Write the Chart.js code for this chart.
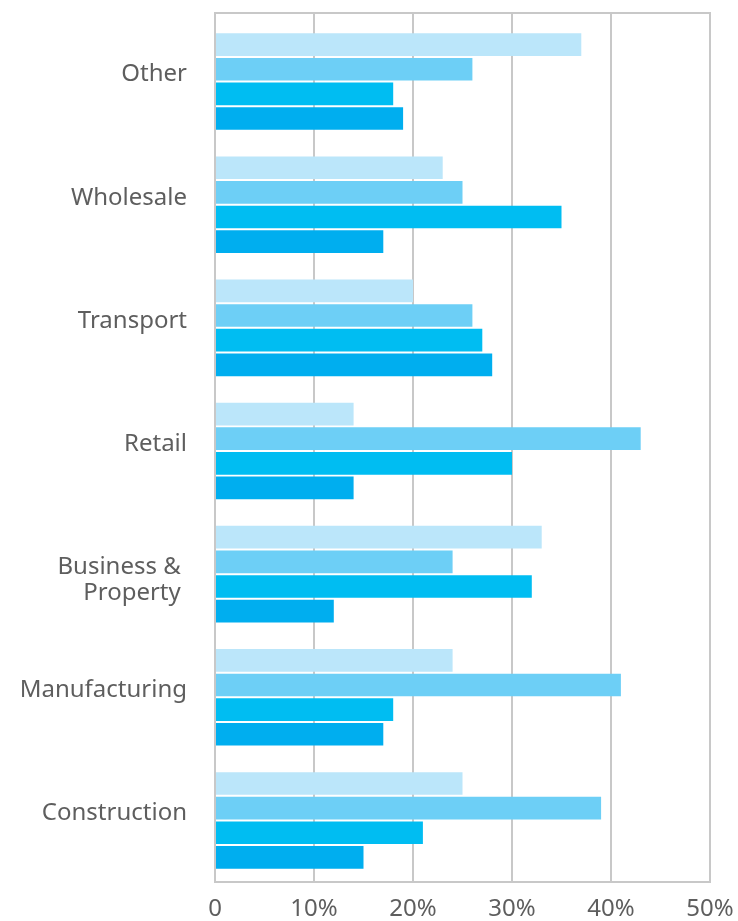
<!DOCTYPE html>
<html>
<head>
<meta charset="utf-8">
<script src="https://cdn.jsdelivr.net/npm/chart.js@4.4.1/dist/chart.umd.min.js"></script>
<style>
  html, body { margin: 0; padding: 0; background: #fff; }
  #wrap { width: 738px; height: 921px; }
</style>
</head>
<body>
<div id="wrap"><canvas id="sectors" width="738" height="921"></canvas></div>
<script>
// blank first line keeps "Business &" level with the other single-line names
const sectors = ['Other', 'Wholesale', 'Transport', 'Retail', ['', 'Business & ', 'Property '], 'Manufacturing', 'Construction'];

// four series per sector, lightest first
const series1 = [37, 23, 20, 14, 33, 24, 25];
const series2 = [26, 25, 26, 43, 24, 41, 39];
const series3 = [18, 35, 27, 30, 32, 18, 21];
const series4 = [19, 17, 28, 14, 12, 17, 15];

const xTicks = [0, 10, 20, 30, 40, 50];

const colours = ['#bbe6fa', '#6dcff6', '#00bdf2', '#00aeef'];
const gridGrey = '#c8c8c8';
const textGrey = '#5e5e5e';
const topGap = 7;

// closes the frame: top edge plus short grid stubs above the category range
const framePlugin = {
  id: 'frame',
  beforeDatasetsDraw(chart) {
    const { ctx, chartArea, scales } = chart;
    const y0 = chartArea.top - topGap;
    ctx.save();
    ctx.strokeStyle = gridGrey;
    ctx.lineWidth = 2;
    ctx.beginPath();
    scales.x.ticks.forEach((t, i) => {
      const px = scales.x.getPixelForTick(i);
      ctx.moveTo(px, y0);
      ctx.lineTo(px, chartArea.top);
    });
    ctx.moveTo(chartArea.left - 1, y0);
    ctx.lineTo(chartArea.right + 1, y0);
    ctx.stroke();
    ctx.restore();
  }
};

const ctx = document.getElementById('sectors');

new Chart(ctx, {
  type: 'bar',
  data: {
    labels: sectors,
    datasets: [series1, series2, series3, series4].map((d, i) => ({
      label: 'Series ' + (i + 1),
      data: d,
      backgroundColor: colours[i],
      borderWidth: 0,
      categoryPercentage: 0.8,
      barPercentage: 0.92
    }))
  },
  options: {
    indexAxis: 'y',
    responsive: false,
    animation: false,
    layout: { padding: { top: 20, right: 28, left: 0, bottom: 0 } },
    plugins: {
      legend: { display: false },
      tooltip: { enabled: false }
    },
    scales: {
      x: {
        min: 0,
        max: 50,
        afterBuildTicks: (scale) => { scale.ticks = xTicks.map(v => ({ value: v })); },
        afterFit: (scale) => {
          scale.height = 39;
          scale.paddingLeft = 0;
          scale.paddingRight = 0;
        },
        grid: { color: gridGrey, lineWidth: 2, drawTicks: false },
        border: { color: gridGrey, width: 2 },
        ticks: {
          padding: 13,
          color: textGrey,
          font: { family: 'Noto Sans', size: 24 },
          callback: (v) => v === 0 ? '0' : v + '%'
        }
      },
      y: {
        afterFit: (scale) => {
          scale.width = 215;
          scale.paddingTop = 0;
          scale.paddingBottom = 0;
        },
        grid: { display: false, drawTicks: false },
        border: { color: gridGrey, width: 2 },
        ticks: {
          padding: 28,
          labelOffset: -topGap,
          color: textGrey,
          font: { family: 'Noto Sans', size: 24, lineHeight: 1.08 }
        }
      }
    }
  },
  plugins: [framePlugin]
});
</script>
</body>
</html>
